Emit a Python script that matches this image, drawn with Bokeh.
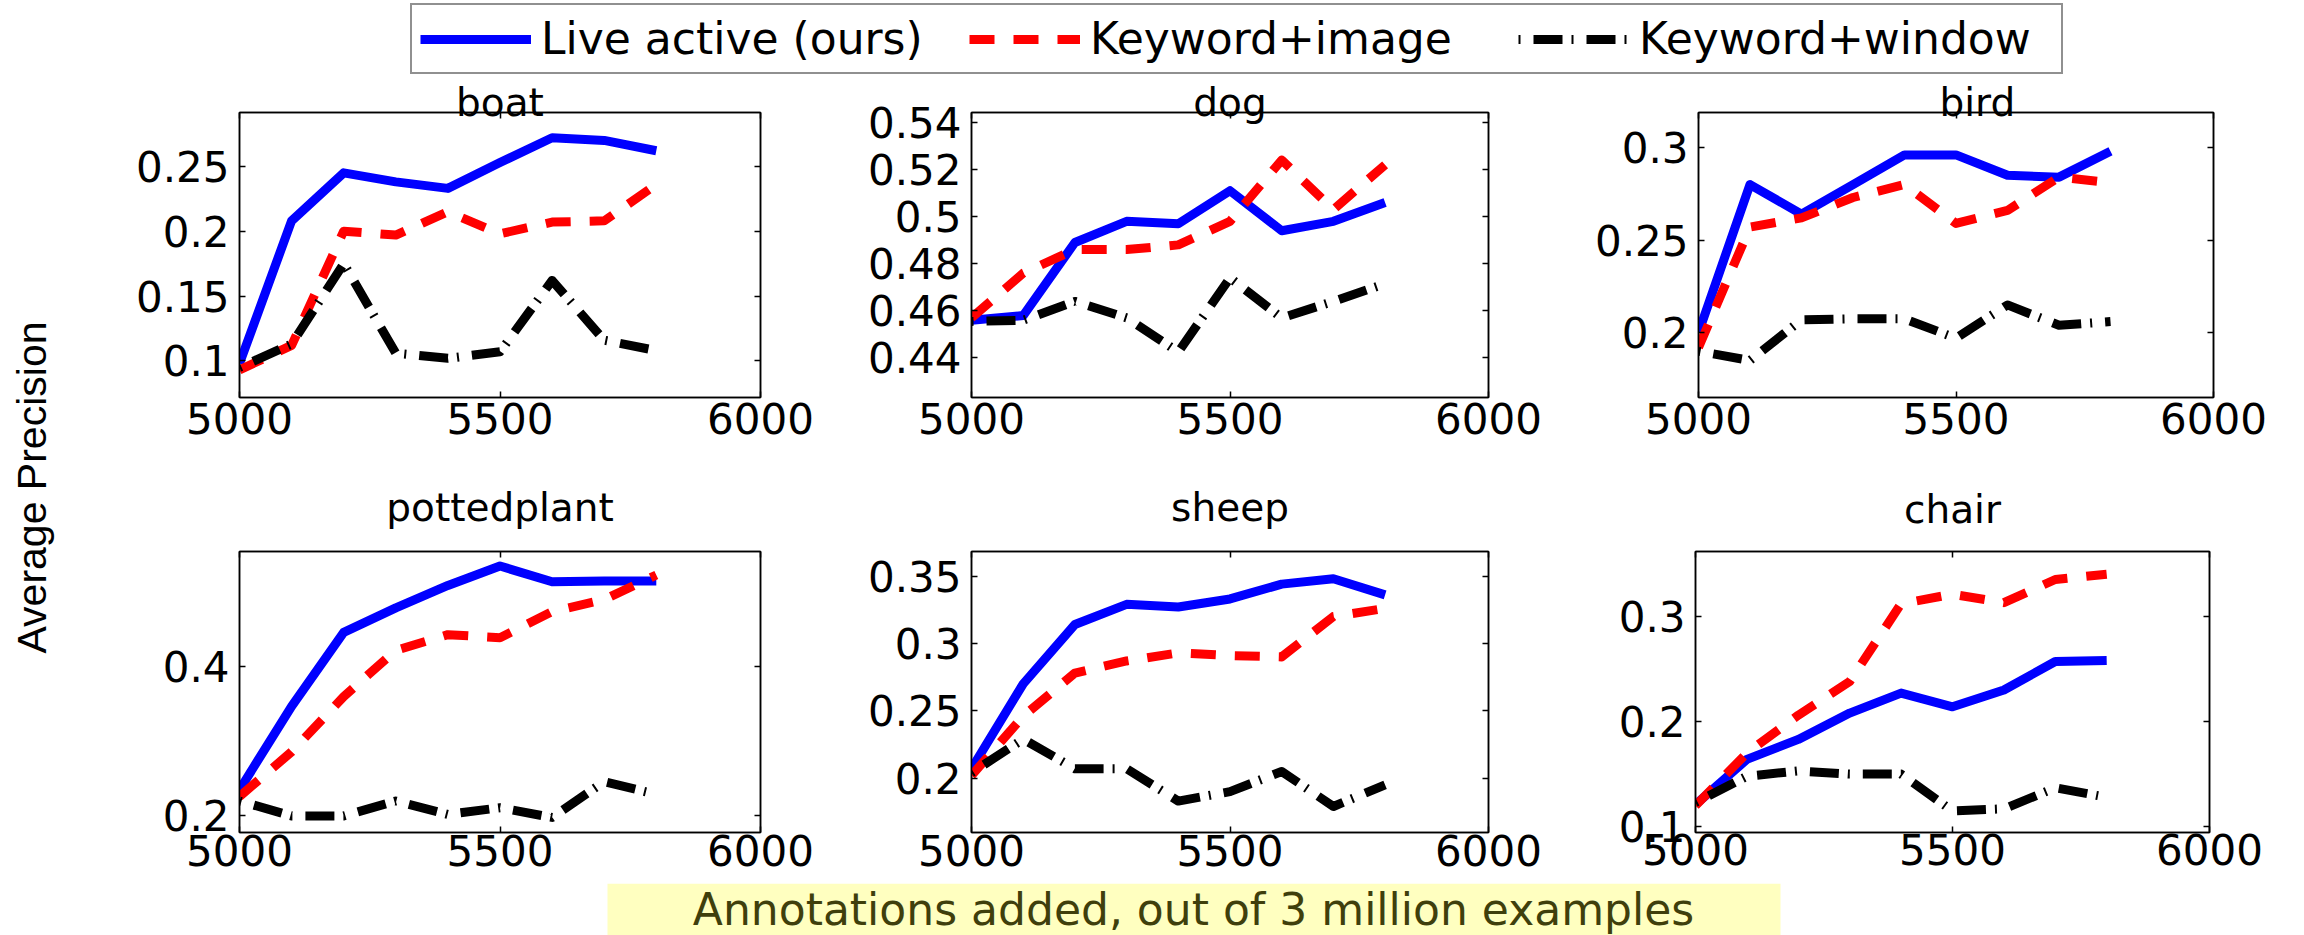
import math
from bokeh.plotting import figure
from bokeh.models import (Range1d, FixedTicker, LinearAxis, Legend, LegendItem, Label,
                          BoxAnnotation, NumeralTickFormatter, CustomJSTickFormatter,
                          ColumnDataSource)
from bokeh.layouts import column, row
from bokeh.embed import file_html
from bokeh.resources import INLINE

# ---------------- data ----------------
X = [5000, 5100, 5200, 5300, 5400, 5500, 5600, 5700, 5800]
SERIES = ["Live active (ours)", "Keyword+image", "Keyword+window"]
CATEGORIES = ["boat", "dog", "bird", "pottedplant", "sheep", "chair"]

boat_live = [0.098, 0.208, 0.245, 0.238, 0.233, 0.253, 0.272, 0.270, 0.262]
boat_kimg = [0.093, 0.112, 0.200, 0.197, 0.215, 0.198, 0.207, 0.208, 0.236]
boat_kwin = [0.095, 0.113, 0.175, 0.106, 0.102, 0.107, 0.162, 0.116, 0.108]

dog_live = [0.456, 0.458, 0.489, 0.498, 0.497, 0.511, 0.494, 0.498, 0.506]
dog_kimg = [0.457, 0.476, 0.486, 0.486, 0.488, 0.498, 0.524, 0.503, 0.522]
dog_kwin = [0.4555, 0.456, 0.464, 0.457, 0.4425, 0.474, 0.457, 0.464, 0.4715]

bird_live = [0.200, 0.280, 0.264, 0.280, 0.296, 0.296, 0.285, 0.284, 0.298]
bird_kimg = [0.192, 0.257, 0.262, 0.273, 0.280, 0.259, 0.266, 0.284, 0.281]
bird_kwin = [0.190, 0.185, 0.207, 0.2075, 0.2075, 0.197, 0.215, 0.204, 0.206]

pottedplant_live = [0.234, 0.346, 0.445, 0.478, 0.508, 0.534, 0.513, 0.514, 0.514]
pottedplant_kimg = [0.225, 0.285, 0.359, 0.421, 0.442, 0.438, 0.473, 0.489, 0.522]
pottedplant_kwin = [0.219, 0.199, 0.199, 0.219, 0.201, 0.210, 0.197, 0.245, 0.228]

sheep_live = [0.207, 0.270, 0.314, 0.329, 0.327, 0.333, 0.344, 0.348, 0.336]
sheep_kimg = [0.202, 0.246, 0.278, 0.287, 0.293, 0.291, 0.290, 0.320, 0.326]
sheep_kwin = [0.204, 0.229, 0.207, 0.207, 0.183, 0.190, 0.205, 0.179, 0.195]

chair_live = [0.121, 0.164, 0.183, 0.208, 0.227, 0.214, 0.230, 0.257, 0.258]
chair_kimg = [0.120, 0.170, 0.206, 0.238, 0.312, 0.321, 0.313, 0.335, 0.340]
chair_kwin = [0.123, 0.148, 0.153, 0.150, 0.150, 0.115, 0.117, 0.137, 0.128]

X_TICKS = [5000, 5500, 6000]
X_TICK_LABELS = ["5000", "5500", "6000"]

boat_yticks = [0.1, 0.15, 0.2, 0.25]
boat_ylabels = ["0.1", "0.15", "0.2", "0.25"]
dog_yticks = [0.44, 0.46, 0.48, 0.5, 0.52, 0.54]
dog_ylabels = ["0.44", "0.46", "0.48", "0.5", "0.52", "0.54"]
bird_yticks = [0.2, 0.25, 0.3]
bird_ylabels = ["0.2", "0.25", "0.3"]
pottedplant_yticks = [0.2, 0.4]
pottedplant_ylabels = ["0.2", "0.4"]
sheep_yticks = [0.2, 0.25, 0.3, 0.35]
sheep_ylabels = ["0.2", "0.25", "0.3", "0.35"]
chair_yticks = [0.1, 0.2, 0.3]
chair_ylabels = ["0.1", "0.2", "0.3"]

Y_LABEL = "Average Precision"
X_LABEL = "Annotations added, out of 3 million examples"

# ---------------- styles / layout ----------------
FONT = "DejaVu Sans"
STYLE = {
    SERIES[0]: dict(line_color="#0000ff", line_width=9, line_dash="solid", line_join="round"),
    SERIES[1]: dict(line_color="#ff0000", line_width=9, line_dash="25 19", line_join="round"),
    SERIES[2]: dict(line_color="#000000", line_width=9, line_dash="2 13 29 9", line_join="round"),
}

# fig_w, fig_h, border_l, border_r, border_t, border_b, y_lo, y_hi,
# title_align, title_offset, title_standoff, x_label_standoff
SPECS = {
    "boat":        (794, 376, 169, 104, 36, 55, 0.0718, 0.2915, "center", 0, -25, 5),
    "dog":         (727, 376, 104, 103, 36, 55, 0.4232, 0.5442, "center", 0, -25, 5),
    "bird":        (713, 376, 104, 91, 36, 55, 0.1650, 0.3189, "left", 241, -25, 5),
    "pottedplant": (794, 431, 169, 104, 94, 51, 0.1768, 0.5535, "center", 0, 43, 2),
    "sheep":       (727, 431, 104, 103, 94, 51, 0.1597, 0.3682, "center", 0, 43, 2),
    "chair":       (713, 431, 104, 95, 99, 50, 0.0945, 0.3616, "center", 0, 39, 1),
}

DATA = {
    "boat": (boat_live, boat_kimg, boat_kwin, boat_yticks, boat_ylabels),
    "dog": (dog_live, dog_kimg, dog_kwin, dog_yticks, dog_ylabels),
    "bird": (bird_live, bird_kimg, bird_kwin, bird_yticks, bird_ylabels),
    "pottedplant": (pottedplant_live, pottedplant_kimg, pottedplant_kwin,
                    pottedplant_yticks, pottedplant_ylabels),
    "sheep": (sheep_live, sheep_kimg, sheep_kwin, sheep_yticks, sheep_ylabels),
    "chair": (chair_live, chair_kimg, chair_kwin, chair_yticks, chair_ylabels),
}


def blank_formatter():
    return CustomJSTickFormatter(code="return ''")


def mirror_axis(ticks):
    return LinearAxis(ticker=FixedTicker(ticks=ticks), formatter=blank_formatter(),
                      major_tick_in=6, major_tick_out=0, minor_tick_in=0, minor_tick_out=0,
                      major_label_standoff=0, major_label_text_font_size="1px",
                      axis_line_color="black", axis_line_width=1.5,
                      major_tick_line_width=1.5)


def make_panel(name):
    live, kimg, kwin, yticks, ylabels = DATA[name]
    fw, fh, bl, br, bt, bb, ylo, yhi, talign, toff, tstand, xso = SPECS[name]
    p = figure(width=fw, height=fh, x_range=Range1d(5000, 6000), y_range=Range1d(ylo, yhi),
               output_backend="svg", toolbar_location=None, title=name,
               min_border_left=bl, min_border_right=br,
               min_border_top=bt, min_border_bottom=bb)
    p.title.text_font = FONT
    p.title.text_font_size = "39px"
    p.title.text_font_style = "normal"
    p.title.text_color = "black"
    p.title.align = talign
    p.title.offset = toff
    p.title.standoff = tstand
    p.title.vertical_align = "bottom"

    p.background_fill_color = "white"
    p.border_fill_color = "white"
    p.outline_line_color = "black"
    p.outline_line_width = 1.5
    p.grid.visible = False

    p.xaxis.ticker = FixedTicker(ticks=X_TICKS)
    p.xaxis.major_label_overrides = dict(zip(X_TICKS, X_TICK_LABELS))
    p.xaxis.major_label_standoff = xso
    p.yaxis.ticker = FixedTicker(ticks=yticks)
    p.yaxis.formatter = NumeralTickFormatter(format="0.[00]")
    p.yaxis.major_label_overrides = dict(zip(yticks, ylabels))
    p.yaxis.major_label_standoff = 10
    for ax in (p.xaxis, p.yaxis):
        ax.major_label_text_font = FONT
        ax.major_label_text_font_size = "42px"
        ax.major_label_text_color = "black"
        ax.major_tick_in = 6
        ax.major_tick_out = 0
        ax.minor_tick_in = 0
        ax.minor_tick_out = 0
        ax.major_tick_line_color = "black"
        ax.major_tick_line_width = 1.5
        ax.axis_line_color = "black"
        ax.axis_line_width = 1.5

    p.add_layout(mirror_axis(yticks), "right")
    p.add_layout(mirror_axis(X_TICKS), "above")

    src = ColumnDataSource(dict(x=X, live=live, kimg=kimg, kwin=kwin))
    p.line("x", "live", source=src, **STYLE[SERIES[0]])
    p.line("x", "kimg", source=src, **STYLE[SERIES[1]])
    p.line("x", "kwin", source=src, **STYLE[SERIES[2]])
    return p


def blank_fig(w, h):
    f = figure(width=w, height=h, x_range=Range1d(0, 1), y_range=Range1d(0, 1),
               output_backend="svg", toolbar_location=None, title=None,
               x_axis_location=None, y_axis_location=None, min_border=0)
    f.min_border_left = f.min_border_right = f.min_border_top = f.min_border_bottom = 0
    f.outline_line_color = None
    f.background_fill_color = "white"
    f.border_fill_color = "white"
    f.grid.visible = False
    return f


# legend strip (its renderers use the boat series, kept outside the strip's 0..1 view)
lf = blank_fig(2304, 76)
leg_src = ColumnDataSource(dict(x=X, live=boat_live, kimg=boat_kimg, kwin=boat_kwin))
leg_renderers = [lf.line("x", col, source=leg_src, **STYLE[s])
                 for s, col in zip(SERIES, ["live", "kimg", "kwin"])]
legend = Legend(items=[LegendItem(label=s, renderers=[r]) for s, r in zip(SERIES, leg_renderers)],
                orientation="horizontal", location=(410, 2), margin=0, padding=8,
                spacing=14, label_standoff=10, glyph_width=111, glyph_height=40,
                label_width=414, label_height=40,
                label_text_font=FONT, label_text_font_size="44px", label_text_color="black",
                border_line_color="#222222", border_line_width=2,
                background_fill_color="white", background_fill_alpha=1)
lf.add_layout(legend)

# y-label strip
ylf = blank_fig(70, 807)
ylf.add_layout(Label(x=31, y=396, x_units="screen", y_units="screen", text=Y_LABEL,
                     angle=math.pi / 2, text_align="center", text_baseline="middle",
                     text_font="Liberation Sans", text_font_size="41px", text_color="black"))

# x-label strip
xf = blank_fig(2304, 52)
xf.add_layout(BoxAnnotation(left=607, right=1780, left_units="screen", right_units="screen",
                            fill_color="#ffffc0", fill_alpha=1.0, line_color=None))
xf.add_layout(Label(x=1193, y=26, x_units="screen", y_units="screen", text=X_LABEL,
                    text_align="center", text_baseline="middle",
                    text_font=FONT, text_font_size="44px", text_color="#3f3f0c"))

panels = {n: make_panel(n) for n in CATEGORIES}
rowB = row(panels["boat"], panels["dog"], panels["bird"])
rowC = row(panels["pottedplant"], panels["sheep"], panels["chair"])
mid = row(ylf, column(rowB, rowC))
page = column(lf, mid, xf)

open("out.html", "w").write(file_html(page, INLINE))
